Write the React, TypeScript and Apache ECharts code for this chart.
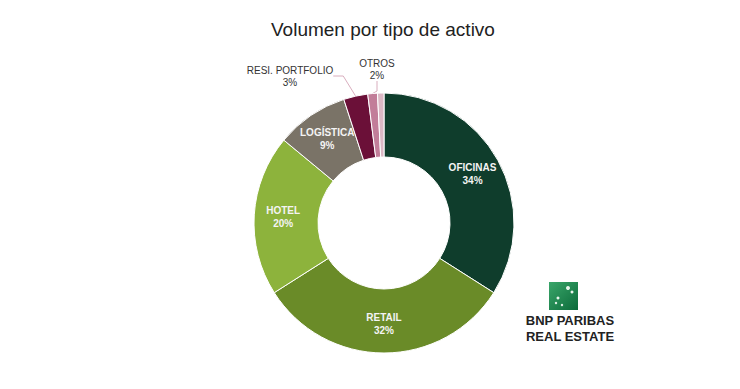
import React, { useEffect, useRef } from "react";
import * as echarts from "echarts";

const titleText = "Volumen por tipo de activo";
const categories = ["OFICINAS", "RETAIL", "HOTEL", "LOGÍSTICA", "RESI. PORTFOLIO", "OTROS", "OTROS2"];
const values = [34, 32, 20, 9, 3, 1.2, 0.8];
const labelTexts = ["OFICINAS\n34%", "RETAIL\n32%", "HOTEL\n20%", "LOGÍSTICA\n9%", "RESI. PORTFOLIO\n3%", "OTROS\n2%", ""];
const colors = ["#0f3d2c", "#6a8b28", "#8db33c", "#7a7367", "#6b1038", "#c27d99", "#dcb8c5"];

export default function App() {
  const ref = useRef<HTMLDivElement>(null);
  useEffect(() => {
    const chart = echarts.init(ref.current!, undefined, { renderer: "svg" });
    const data = categories.map((c, i) => {
      const outside = i >= 4;
      return {
        name: c,
        value: values[i],
        itemStyle: { color: colors[i] },
        label: outside
          ? {
              show: i === 4 || i === 5,
              position: "outside",
              formatter: () => labelTexts[i],
              color: "#333",
              fontWeight: "normal",
              fontSize: 10,
              lineHeight: 12,
            }
          : {
              show: true,
              position: "inside",
              formatter: () => labelTexts[i],
              color: "#f4f4f4",
              fontWeight: "bold",
              fontSize: 10,
              lineHeight: 13,
            },
        labelLine: outside
          ? { show: i === 4 || i === 5, length: 10, length2: 10, lineStyle: { color: "#d9aebe", width: 1 } }
          : { show: false },
      };
    });
    chart.setOption({
      animation: false,
      title: {
        text: titleText,
        left: 266,
        top: 15,
        textStyle: { fontFamily: "Liberation Sans, Arial", fontSize: 19, fontWeight: "normal", color: "#222" },
      },
      textStyle: { fontFamily: "Liberation Sans, Arial" },
      series: [
        {
          type: "pie",
          center: [384, 223],
          radius: [66, 130],
          startAngle: 90,
          clockwise: true,
          itemStyle: { borderColor: "#ffffff", borderWidth: 1 },
          labelLayout: (p: any) => {
            if (p.dataIndex === 4) return { x: 290, y: 76, align: "center", verticalAlign: "middle" };
            if (p.dataIndex === 5) return { x: 377, y: 69, align: "center", verticalAlign: "middle" };
            return {};
          },
          data,
        },
      ],
      graphic: [
        {
          type: "rect",
          shape: { x: 549, y: 282, width: 29, height: 28 },
          style: {
            fill: new echarts.graphic.LinearGradient(0, 0, 1, 1, [
              { offset: 0, color: "#3aa66a" },
              { offset: 1, color: "#0b6b3a" },
            ]),
          },
        },
        { type: "circle", shape: { cx: 568, cy: 288, r: 2 }, style: { fill: "#e8f5ec" } },
        { type: "circle", shape: { cx: 572, cy: 292, r: 1.5 }, style: { fill: "#e8f5ec" } },
        { type: "circle", shape: { cx: 558, cy: 298, r: 1.5 }, style: { fill: "#e8f5ec" } },
        { type: "circle", shape: { cx: 556, cy: 303, r: 1.2 }, style: { fill: "#e8f5ec" } },
        { type: "circle", shape: { cx: 562, cy: 305, r: 1.2 }, style: { fill: "#e8f5ec" } },
        {
          type: "text",
          style: { text: "BNP PARIBAS", x: 570, y: 320, align: "center", verticalAlign: "middle", fill: "#222", font: "bold 13px Liberation Sans, Arial" },
        },
        {
          type: "text",
          style: { text: "REAL ESTATE", x: 570, y: 336, align: "center", verticalAlign: "middle", fill: "#222", font: "bold 13px Liberation Sans, Arial" },
        },
      ],
    });
    return () => chart.dispose();
  }, []);
  return <div ref={ref} style={{ width: 740, height: 389, position: "absolute", left: 0, top: 0 }} />;
}
